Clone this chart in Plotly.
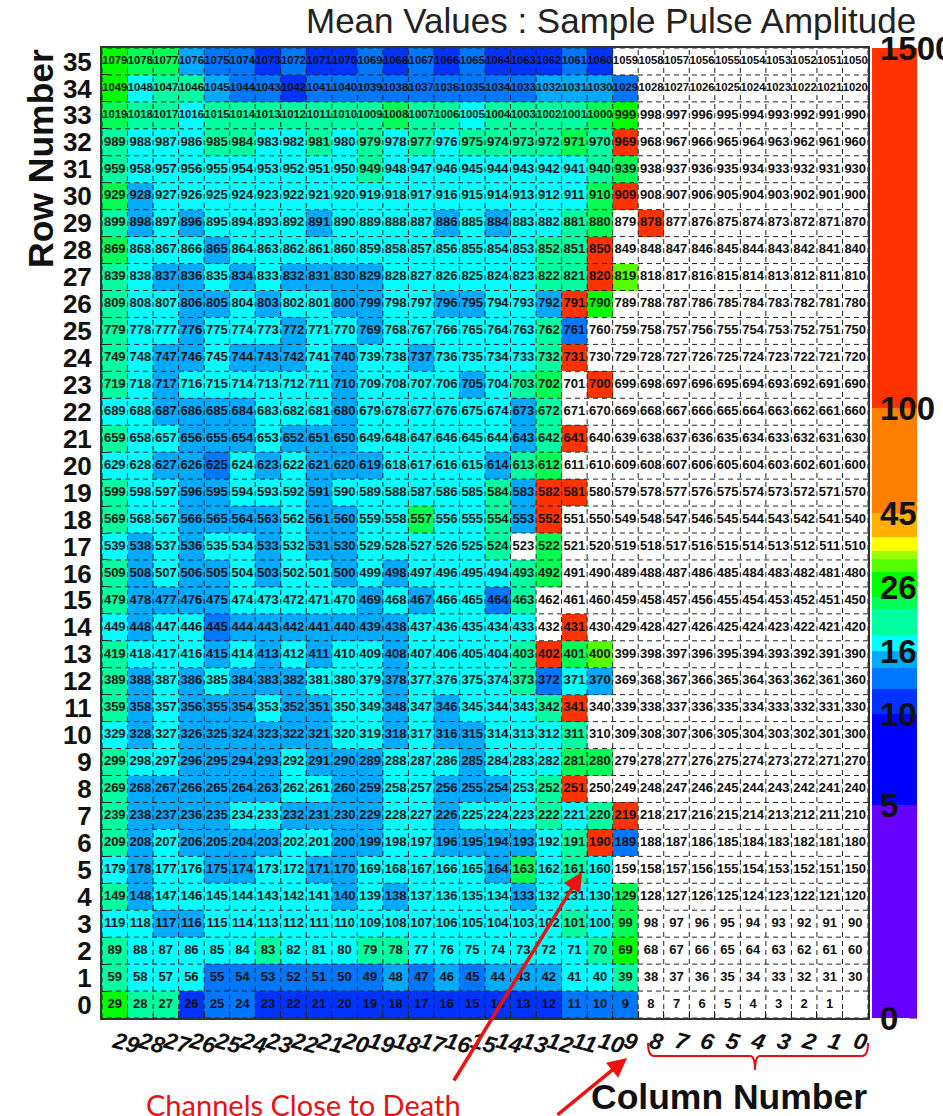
import numpy as np
import plotly.graph_objects as go

N = None
W, H = 943, 1116
L, R, T, B = 102, 868, 48, 1018  # plot box on the page

column_labels = list(range(29, -1, -1))
row_labels = list(range(35, -1, -1))

# Mean amplitude per cell, read by colour band. Left to right = column 29 downwards;
# rows are padded with empty cells on the right.
amp_35 = [26,23,23,15,13,13,11,13,11,11,13,11,13,11,13,11,11,11,13,11,N]
amp_34 = [26,17,20,20,15,13,13,11,13,13,13,13,13,13,13,13,13,15,15,15,13]
amp_33 = [23,20,20,17,20,20,20,20,20,20,20,23,20,20,17,20,20,20,20,23,26]
amp_32 = [20,17,17,17,20,20,17,17,20,17,20,17,20,17,20,20,20,20,23,20,200]
amp_31 = [20,17,17,17,17,17,17,17,17,17,20,17,17,17,17,17,17,17,17,20,23]
amp_30 = [23,15,17,17,17,17,17,17,17,17,17,17,17,17,17,17,17,17,17,23,200]
amp_29 = [20,15,17,15,17,17,17,17,15,17,17,17,17,15,17,15,17,17,20,23,N,200]
amp_28 = [23,17,17,17,15,17,17,17,17,17,17,17,17,17,17,17,17,20,20,200,N]
amp_27 = [20,17,15,15,17,15,17,15,15,15,15,17,17,17,17,17,17,20,20,200,30]
amp_26 = [20,17,17,15,15,17,15,17,17,15,15,17,17,15,15,17,17,15,200,26,N]
amp_25 = [20,17,17,15,17,17,17,15,17,17,15,17,17,17,17,17,17,20,13,N,N]
amp_24 = [20,17,15,15,17,15,15,15,17,15,17,17,15,17,17,17,17,20,200,N,N]
amp_23 = [20,17,15,17,17,17,17,17,17,15,17,17,17,17,15,17,20,23,N,200,N]
amp_22 = [17,17,15,15,15,15,17,17,17,15,17,17,17,17,17,17,15,20,N,N,N]
amp_21 = [20,17,17,15,15,15,17,15,15,15,17,17,17,17,17,17,15,20,200,N,N]
amp_20 = [17,17,15,15,13,17,15,17,15,15,15,17,17,17,17,15,20,23,N,N,N]
amp_19 = [20,17,17,15,15,17,17,17,15,17,17,17,17,17,17,20,15,200,200,N,N]
amp_18 = [20,17,17,15,15,15,15,17,15,15,17,17,23,17,17,20,15,200,N,N,N]
amp_17 = [17,15,17,15,17,17,15,17,15,15,17,17,17,17,17,20,N,23,N,N,N]
amp_16 = [20,15,17,15,15,17,15,17,17,15,17,15,17,17,17,17,20,23,N,N,N]
amp_15 = [20,15,15,15,15,17,17,17,17,17,15,17,15,17,17,13,20,N,N,N,N]
amp_14 = [17,15,17,17,13,15,15,15,15,15,15,15,17,17,17,17,17,N,200,N,N]
amp_13 = [20,17,17,17,15,17,15,17,15,17,17,15,17,17,17,17,20,200,23,30,N]
amp_12 = [20,15,17,15,17,15,15,15,17,17,17,15,17,17,17,17,20,13,17,15,N]
amp_11 = [20,15,17,15,15,15,17,15,15,17,17,15,17,15,17,17,17,20,200,N,N]
amp_10 = [17,15,17,15,15,15,15,15,15,17,17,15,17,15,15,17,17,17,20,N,N]
amp_09 = [20,17,17,15,15,15,15,17,15,15,15,17,17,17,15,17,17,17,23,23,N]
amp_08 = [20,15,15,15,15,15,15,17,17,15,15,17,17,15,15,15,17,20,200,N,N]
amp_07 = [20,15,15,15,15,17,17,15,15,15,15,17,17,15,17,17,17,20,17,20,200]
amp_06 = [20,15,17,15,15,15,15,17,17,15,15,17,17,15,15,15,15,17,20,200,13]
amp_05 = [17,15,17,17,15,15,17,17,15,15,17,17,17,17,17,15,23,17,20,17,N]
amp_04 = [20,15,17,17,17,17,17,17,17,15,17,15,17,17,17,17,15,17,17,17,23]
amp_03 = [17,17,15,15,17,17,17,17,17,17,17,17,17,17,17,17,17,17,20,17,23]
amp_02 = [20,17,17,17,17,17,20,17,17,17,20,20,17,17,17,17,17,17,17,20,26]
amp_01 = [20,17,17,17,13,13,13,13,13,13,13,15,13,15,13,15,15,15,17,17,20]
amp_00 = [26,20,20,11,13,13,11,11,11,11,11,11,11,11,11,11,11,11,13,13,13]

amplitude_rows = [amp_35, amp_34, amp_33, amp_32, amp_31, amp_30, amp_29, amp_28, amp_27,
                  amp_26, amp_25, amp_24, amp_23, amp_22, amp_21, amp_20, amp_19, amp_18,
                  amp_17, amp_16, amp_15, amp_14, amp_13, amp_12, amp_11, amp_10, amp_09,
                  amp_08, amp_07, amp_06, amp_05, amp_04, amp_03, amp_02, amp_01, amp_00]

# Palette bands: value edges, height of each edge on the palette bar, band colours.
band_values = [0, 5, 10, 12, 14, 16, 18, 22, 24, 29, 32, 36, 40, 45, 100, 1500]
band_heights = [0, 213, 304, 329, 350, 367, 383, 409, 421, 446, 459, 467, 481, 505, 610, 970]
band_colors = ["#6600ff", "#0000ff", "#0033ff", "#0077ff", "#00aaff", "#00ffff", "#00ffa0",
               "#00ff55", "#00ff00", "#55ff00", "#99ff00", "#ffff00", "#ffb000", "#ff7f00", "#ff3300"]
palette_labels = [0, 5, 10, 16, 26, 45, 100, 1500]
palette_ticks = [0, 5, 10, 12, 14, 18, 22, 32, 36, 40]

top = band_heights[-1]
colorscale = []
for i, c in enumerate(band_colors):
    colorscale += [[band_heights[i] / top, c], [band_heights[i + 1] / top, c]]


def bar(v):
    return float(np.interp(v, band_values, band_heights))


z = []
for row in amplitude_rows:
    full = list(row) + [N] * (len(column_labels) - len(row))
    z.append([N if v is None else bar(v) for v in full])


def px(x):
    return (x - L) / (R - L)


def py(y):
    return (B - y) / (B - T)


fig = go.Figure()
fig.add_trace(go.Heatmap(
    x=column_labels, y=row_labels, z=z, zmin=0, zmax=top, zauto=False, colorscale=colorscale,
    hoverongaps=False, hoverinfo="skip", xgap=0, ygap=0,
    colorbar=dict(
        x=px(872), xanchor="left", y=0, yanchor="bottom", len=1, lenmode="fraction",
        thickness=45, thicknessmode="pixels", xpad=0, ypad=0, outlinewidth=0,
        ticks="", showticklabels=False,
    ),
))

# dashed cell grid on top of the cells
gx, gy = [], []
for e in np.arange(column_labels[-1] - 0.5, column_labels[0] + 0.6):
    gx += [e, e, None]
    gy += [row_labels[-1] - 0.5, row_labels[0] + 0.5, None]
for e in np.arange(row_labels[-1] - 0.5, row_labels[0] + 0.6):
    gx += [column_labels[-1] - 0.5, column_labels[0] + 0.5, None]
    gy += [e, e, None]
fig.add_trace(go.Scatter(x=gx, y=gy, mode="lines", hoverinfo="skip", showlegend=False,
                         line=dict(color="#222222", width=1, dash="5px,4px")))

# channel number printed in each cell: row * 30 + column; the very last one is not printed
tx, ty, tt, ts = [], [], [], []
for r in row_labels:
    for c in column_labels:
        ch = r * len(column_labels) + c
        tx.append(c)
        ty.append(r)
        tt.append(str(ch) if ch else "")
        ts.append(11.3 if ch >= 1000 else 13)
fig.add_trace(go.Scatter(x=tx, y=ty, text=tt, mode="text", hoverinfo="skip", showlegend=False,
                         textposition="middle center",
                         textfont=dict(family="Liberation Sans", size=ts, color="#111111", weight="bold")))

edges_x = [c - 0.5 for c in column_labels]
edges_y = [r - 0.5 for r in row_labels]
fig.update_xaxes(
    range=[column_labels[0] + 0.5, column_labels[-1] - 0.5], tickmode="array", tickvals=column_labels,
    ticktext=[str(c) for c in column_labels], tickangle=15, ticks="", ticklabelstandoff=0,
    tickfont=dict(family="Liberation Sans", size=23, color="#111", weight="bold", style="italic"),
    showgrid=False, zeroline=False, showline=True, linecolor="#333", linewidth=2, mirror=True,
    minor=dict(tickmode="array", tickvals=edges_x, ticks="inside", ticklen=7, tickcolor="#222", showgrid=False),
)
fig.update_yaxes(
    range=[row_labels[-1] - 0.5, row_labels[0] + 0.5], tickmode="array", tickvals=row_labels,
    ticktext=[str(r) for r in row_labels], ticks="", ticklabelstandoff=3,
    tickfont=dict(family="Liberation Sans", size=26, color="#111", weight="bold"),
    showgrid=False, zeroline=False, showline=True, linecolor="#333", linewidth=2, mirror=True,
    minor=dict(tickmode="array", tickvals=edges_y, ticks="inside", ticklen=6, tickcolor="#222", showgrid=False),
)

ann = []
ann.append(dict(text="Mean Values : Sample Pulse Amplitude", x=px(918), y=py(20), xanchor="right", yanchor="middle",
                font=dict(family="Liberation Sans", size=35, color="#222"), showarrow=False))
ann.append(dict(text="<b>Row Number</b>", x=px(41), y=py(159), textangle=-90, xanchor="center", yanchor="middle",
                font=dict(family="Liberation Sans", size=35.5, color="#111"), showarrow=False))
ann.append(dict(text="<b>Column Number</b>", x=px(729), y=py(1097), xanchor="center", yanchor="middle",
                font=dict(family="Liberation Sans", size=35.5, color="#111"), showarrow=False))
ann.append(dict(text="Channels Close to Death", x=px(303), y=py(1104), xanchor="center", yanchor="middle",
                font=dict(family="Lato", size=29, color="#e81010"), showarrow=False))
for v in palette_labels:
    ann.append(dict(text="<b>%d</b>" % v, x=px(878), y=bar(v) / top, xanchor="left", yanchor="middle",
                    font=dict(family="Liberation Sans", size=33, color="#111"), showarrow=False))
# pointer arrows
ann.append(dict(text="", x=px(582), y=py(872), ax=453 - 582, ay=1082 - 872, axref="pixel", ayref="pixel",
                showarrow=True, arrowhead=2, arrowsize=1.1, arrowwidth=3.5, arrowcolor="#f01010"))
ann.append(dict(text="", x=px(627), y=py(1058), ax=556 - 627, ay=1116 - 1058, axref="pixel", ayref="pixel",
                showarrow=True, arrowhead=2, arrowsize=1.1, arrowwidth=3.5, arrowcolor="#f01010"))
for a in ann:
    a.update(xref="paper", yref="paper")

# red curly bracket under columns 8..0
bracket = "M {},{} Q {},{} {},{} L {},{} Q {},{} {},{} Q {},{} {},{} L {},{} Q {},{} {},{}".format(
    px(648), py(1043), px(648), py(1056), px(654), py(1056), px(750), py(1056), px(755), py(1056), px(755), py(1070),
    px(755), py(1056), px(760), py(1056), px(862), py(1056), px(868), py(1056), px(868), py(1043))
shapes = [dict(type="path", xref="paper", yref="paper", path=bracket, line=dict(color="#e81010", width=2))]
# palette tick marks on the right edge of the bar
for v in palette_ticks:
    shapes.append(dict(type="line", xref="paper", yref="paper", x0=px(909), x1=px(917),
                       y0=bar(v) / top, y1=bar(v) / top, line=dict(color="#222", width=1)))

fig.update_layout(
    width=W, height=H, autosize=False, showlegend=False, paper_bgcolor="white", plot_bgcolor="white",
    margin=dict(l=L, r=W - R, t=T, b=H - B, pad=0, autoexpand=False),
    annotations=ann, shapes=shapes,
)
fig.write_html("out.html", config=dict(displayModeBar=False),
               post_script="document.body.style.margin='0';document.body.style.overflow='hidden';")
